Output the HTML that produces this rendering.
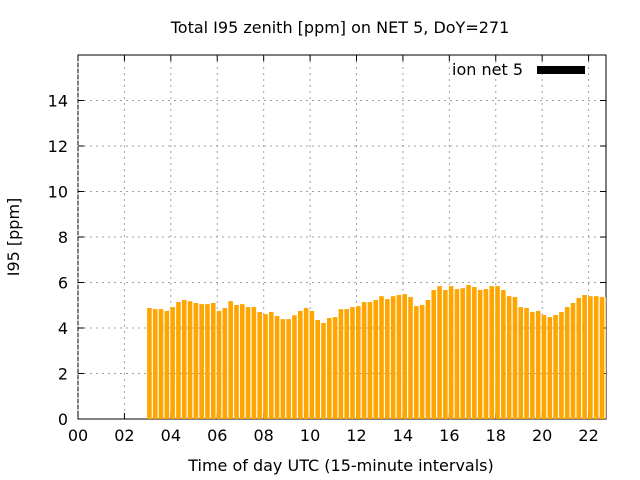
<!DOCTYPE html>
<html><head><meta charset="utf-8"><style>body{margin:0;background:#fff}svg{display:block;font-family:"DejaVu Sans","Liberation Sans",sans-serif}</style></head>
<body>
<svg id="c" width="640" height="480"></svg>
<script>
const hours=[];for(let k=0;k<80;k++)hours.push(3+k*0.25);
const values=[4.88,4.83,4.83,4.75,4.92,5.14,5.23,5.18,5.1,5.05,5.05,5.1,4.75,4.88,5.18,5.01,5.05,4.92,4.92,4.7,4.61,4.7,4.53,4.39,4.39,4.56,4.75,4.88,4.75,4.35,4.22,4.44,4.48,4.83,4.83,4.92,4.96,5.14,5.14,5.23,5.4,
5.27,5.40,5.45,5.49,5.36,4.96,5.01,5.23,5.67,5.84,5.67,5.84,5.71,5.75,5.89,5.80,5.67,5.71,5.84,5.84,5.67,5.40,5.36,4.92,4.88,4.70,4.75,4.57,4.48,4.57,4.70,4.92,5.10,5.32,5.45,5.40,5.40,5.36,5.36];
const xTicks=[0,2,4,6,8,10,12,14,16,18,20,22];
const xTickLabels=["00","02","04","06","08","10","12","14","16","18","20","22"];
const yTicks=[0,2,4,6,8,10,12,14];
const L=78,R=606,T=55,B=419,XMAX=22.75,YMAX=16;
const X=v=>L+v/XMAX*(R-L), Y=v=>B-v/YMAX*(B-T);
const s=document.getElementById('c');const NS='http://www.w3.org/2000/svg';
function el(t,a,txt){const e=document.createElementNS(NS,t);for(const k in a)e.setAttribute(k,a[k]);if(txt!==undefined)e.textContent=txt;s.appendChild(e);return e;}
el('rect',{x:L,y:T,width:R-L,height:B-T,fill:'none',stroke:'#000','stroke-width':1});
xTicks.forEach((t,i)=>{
 const g=el('line',{x1:X(t),x2:X(t),y1:T,y2:B,stroke:'#a0a0a0','stroke-dasharray':'2,4'});
 
 el('line',{x1:X(t),x2:X(t),y1:B,y2:B-6,stroke:'#000'});
 el('line',{x1:X(t),x2:X(t),y1:T,y2:T+6,stroke:'#000'});
 const tx=el('text',{x:X(t),y:B+22,'text-anchor':'middle','font-size':16},xTickLabels[i]);
 
});
yTicks.forEach(t=>{
 if(t>0){const g=el('line',{x1:L,x2:R,y1:Y(t),y2:Y(t),stroke:'#a0a0a0','stroke-dasharray':'2,4'});
 }
 el('line',{x1:L,x2:L+6,y1:Y(t),y2:Y(t),stroke:'#000'});
 el('line',{x1:R,x2:R-6,y1:Y(t),y2:Y(t),stroke:'#000'});
 const tx=el('text',{x:L-10,y:Y(t)+6,'text-anchor':'end','font-size':16},String(t));
 
});
values.forEach((v,i)=>{
 const cx=X(hours[i])+1.8;let x0=cx-2.3,x1=Math.min(cx+2.3,R);
 const r=el('rect',{x:x0,y:Y(v),width:Math.max(0,x1-x0),height:B-Y(v),fill:'#ffa500'});
 
});
const lg=el('text',{x:523,y:75,'text-anchor':'end','font-size':16},'ion net 5');

const ls=el('rect',{x:537,y:66,width:48,height:8,fill:'#000'});

const ti=el('text',{x:340,y:33,'text-anchor':'middle','font-size':16},'Total I95 zenith [ppm] on NET 5, DoY=271');

const xl=el('text',{x:341,y:471,'text-anchor':'middle','font-size':16},'Time of day UTC (15-minute intervals)');

const yl=el('text',{x:19,y:237,'text-anchor':'middle','font-size':16,transform:'rotate(-90 19 237)'},'I95 [ppm]');

</script>
</body></html>
